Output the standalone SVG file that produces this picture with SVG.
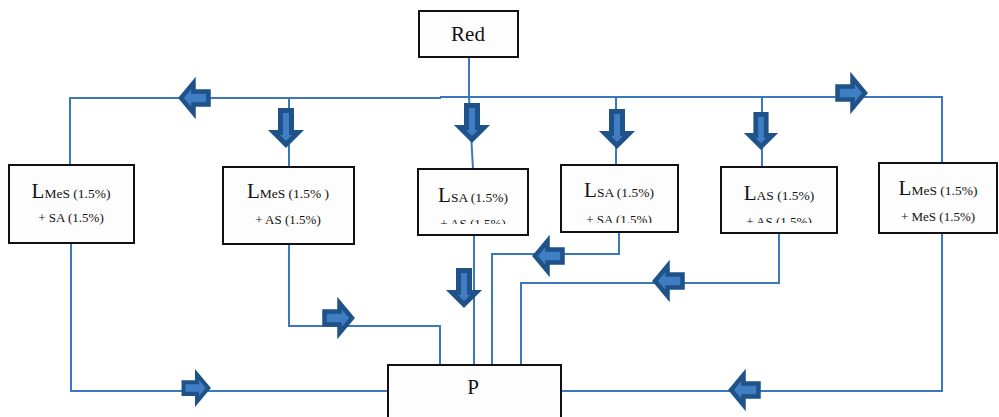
<svg xmlns="http://www.w3.org/2000/svg" xmlns:xlink="http://www.w3.org/1999/xlink" width="999" height="417" viewBox="0 0 999 417">
<style>
.box{fill:#fdfdfd;stroke:#111;stroke-width:2}
.ln{fill:none;stroke:#3a78bd;stroke-width:2}
.ah{fill:#3f7ec3;stroke:#1f5288;stroke-width:4.5;stroke-linejoin:miter}
.av{fill:#3f7ec3;stroke:#1f5288;stroke-width:5;stroke-linejoin:miter}
text{font-family:"Liberation Serif","Times New Roman",serif;fill:#111}
.big{font-size:21px}
.sub{font-size:13.5px}
.l2{font-size:13px}
</style>
<defs>
<polygon id="arrR" points="-30.5,-6.5 -15.5,-6.5 -15.5,-15 -3,0 -15.5,15 -15.5,6.5 -30.5,6.5"/>
<polygon id="arrD" points="-5.5,-37.5 -5.5,-15.5 -12,-15.5 0,-3.5 12,-15.5 5.5,-15.5 5.5,-37.5"/>
<clipPath id="c3"><rect x="418" y="169" width="110" height="55"/></clipPath>
<clipPath id="c4"><rect x="561" y="165" width="117" height="58"/></clipPath>
<clipPath id="c5"><rect x="721" y="167" width="116" height="56"/></clipPath>
</defs>

<g id="connectors">
<polyline class="ln" points="70,165 70,98 441,98"/>
<polyline class="ln" points="440,97 942,97 942,163"/>
<polyline class="ln" points="469,57 469,97 473,169"/>
<line class="ln" x1="289" y1="97" x2="289" y2="167"/>
<line class="ln" x1="616" y1="97" x2="616" y2="165"/>
<line class="ln" x1="762" y1="97" x2="762" y2="167"/>
<polyline class="ln" points="71,243 71,391 388,391"/>
<polyline class="ln" points="289,244 289,326 440,326 440,365"/>
<line class="ln" x1="474" y1="235" x2="474" y2="365"/>
<polyline class="ln" points="619,232 619,254 492,254 492,365"/>
<polyline class="ln" points="779,233 779,283 521,283 521,365"/>
<polyline class="ln" points="942,233 942,391 561,391"/>

<use href="#arrR" class="ah" transform="translate(178,98) rotate(180)"/>
<use href="#arrR" class="ah" transform="translate(868,93)"/>
<use href="#arrR" class="ah" transform="translate(355,318)"/>
<use href="#arrR" class="ah" transform="translate(211,388) scale(0.9)"/>
<use href="#arrR" class="ah" transform="translate(532,256) rotate(180)"/>
<use href="#arrR" class="ah" transform="translate(652,281) rotate(180)"/>
<use href="#arrR" class="ah" transform="translate(728,390) rotate(180)"/>

<use href="#arrD" class="av" transform="translate(286,148)"/>
<use href="#arrD" class="av" transform="translate(472,143)"/>
<use href="#arrD" class="av" transform="translate(617,149)"/>
<use href="#arrD" class="av" transform="translate(761,150) scale(0.95)"/>
<use href="#arrD" class="av" transform="translate(464,308)"/>
</g>

<g id="red">
<rect class="box" x="419" y="11" width="99" height="46"/>
<text x="468" y="41" text-anchor="middle" class="big">Red</text>
</g>

<g id="n1">
<rect class="box" x="9" y="165" width="125" height="78"/>
<text x="71" y="198" text-anchor="middle"><tspan class="big">L</tspan><tspan class="sub">MeS (1.5%)</tspan></text>
<text x="71" y="222" text-anchor="middle" class="l2">+ SA (1.5%)</text>
</g>

<g id="n2">
<rect class="box" x="223" y="167" width="131" height="77"/>
<text x="288" y="198" text-anchor="middle"><tspan class="big">L</tspan><tspan class="sub">MeS (1.5% )</tspan></text>
<text x="288" y="224" text-anchor="middle" class="l2">+ AS (1.5%)</text>
</g>

<g id="n3">
<rect class="box" x="418" y="169" width="110" height="66"/>
<text x="473" y="202" text-anchor="middle"><tspan class="big">L</tspan><tspan class="sub">SA (1.5%)</tspan></text>
<text x="473" y="228" text-anchor="middle" class="l2" clip-path="url(#c3)">+ AS (1.5%)</text>
</g>

<g id="n4">
<rect class="box" x="561" y="165" width="117" height="67"/>
<text x="619" y="197" text-anchor="middle"><tspan class="big">L</tspan><tspan class="sub">SA (1.5%)</tspan></text>
<text x="619" y="224" text-anchor="middle" class="l2" clip-path="url(#c4)">+ SA (1.5%)</text>
</g>

<g id="n5">
<rect class="box" x="721" y="167" width="116" height="66"/>
<text x="779" y="200" text-anchor="middle"><tspan class="big">L</tspan><tspan class="sub">AS (1.5%)</tspan></text>
<text x="779" y="226" text-anchor="middle" class="l2" clip-path="url(#c5)">+ AS (1.5%)</text>
</g>

<g id="n6">
<rect class="box" x="879" y="163" width="118" height="70"/>
<text x="938" y="195" text-anchor="middle"><tspan class="big">L</tspan><tspan class="sub">MeS (1.5%)</tspan></text>
<text x="938" y="221" text-anchor="middle" class="l2">+ MeS (1.5%)</text>
</g>

<g id="p">
<rect class="box" x="388" y="365" width="173" height="70"/>
<text x="473" y="394" text-anchor="middle" class="big">P</text>
</g>
</svg>
